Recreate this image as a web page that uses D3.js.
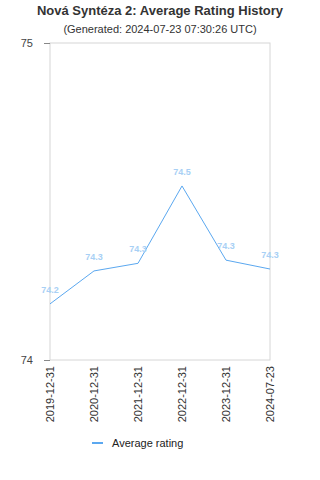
<!DOCTYPE html>
<html>
<head>
<meta charset="utf-8">
<script src="https://cdn.jsdelivr.net/npm/d3@7"></script>
<style>
  body { margin: 0; background: #fff; }
  text { font-family: "Liberation Sans", Arial, sans-serif; }
</style>
</head>
<body>
<div id="chart"></div>
<script>
var titleText = "Nová Syntéza 2: Average Rating History";
var subtitleText = "(Generated: 2024-07-23 07:30:26 UTC)";
var dates = ["2019-12-31", "2020-12-31", "2021-12-31", "2022-12-31", "2023-12-31", "2024-07-23"];
var ratings = [74.177, 74.281, 74.305, 74.549, 74.315, 74.287];
var yTicks = [74, 75];
var seriesName = "Average rating";

var width = 320, height = 480;
var plotLeft = 50, plotRight = 270, plotTop = 43, plotBottom = 360;
var lineColor = "#5ba8f0";

var svg = d3.select("#chart").append("svg")
  .attr("width", width)
  .attr("height", height);

// title
svg.append("text")
  .attr("x", 160).attr("y", 15)
  .attr("text-anchor", "middle")
  .style("font-size", "13px").style("font-weight", "bold")
  .style("fill", "#333")
  .text(titleText);

svg.append("text")
  .attr("x", 160).attr("y", 33)
  .attr("text-anchor", "middle")
  .style("font-size", "11px")
  .style("fill", "#333")
  .text(subtitleText);

var x = d3.scalePoint().domain(dates).range([plotLeft, plotRight]);
var y = d3.scaleLinear().domain([74, 75]).range([plotBottom, plotTop]);

// frame
svg.append("rect")
  .attr("x", plotLeft).attr("y", plotTop)
  .attr("width", plotRight - plotLeft).attr("height", plotBottom - plotTop)
  .attr("fill", "none")
  .attr("stroke", "#d6d6d6");

// y axis
var yAxis = svg.append("g")
  .attr("transform", "translate(" + plotLeft + ",0)")
  .call(d3.axisLeft(y).tickValues(yTicks).tickSize(6).tickPadding(11).tickFormat(d3.format("d")));
yAxis.select(".domain").remove();
yAxis.selectAll("line").attr("stroke", "#888");
yAxis.selectAll("text").style("font-size", "11px").style("fill", "#444")
  .style("font-family", "'Liberation Sans', Arial, sans-serif");

// x axis
var xAxis = svg.append("g")
  .attr("transform", "translate(0," + plotBottom + ")")
  .call(d3.axisBottom(x).tickSize(0));
xAxis.select(".domain").remove();
xAxis.selectAll("text")
  .attr("transform", "rotate(-90)")
  .attr("text-anchor", "end")
  .attr("x", -6).attr("y", 0).attr("dy", "0.35em")
  .style("font-size", "11px").style("fill", "#333")
  .style("font-family", "'Liberation Sans', Arial, sans-serif");

// line
var line = d3.line()
  .x(function(d, i) { return x(dates[i]); })
  .y(function(d) { return y(d); });

svg.append("path")
  .datum(ratings)
  .attr("d", line)
  .attr("fill", "none")
  .attr("stroke", lineColor)
  .attr("stroke-width", 1);

// value labels
svg.selectAll(".val")
  .data(ratings)
  .enter().append("text")
  .attr("class", "val")
  .attr("x", function(d, i) { return x(dates[i]); })
  .attr("y", function(d) { return y(d) - 11; })
  .attr("text-anchor", "middle")
  .style("font-size", "9px")
  .style("font-weight", "bold")
  .style("fill", "#a8d0f5")
  .text(function(d) { return d3.format(".1f")(d); });

// legend
svg.append("line")
  .attr("x1", 92).attr("x2", 103)
  .attr("y1", 443).attr("y2", 443)
  .attr("stroke", lineColor).attr("stroke-width", 2);

svg.append("text")
  .attr("x", 112).attr("y", 447)
  .style("font-size", "11px").style("fill", "#222")
  .text(seriesName);
</script>
</body>
</html>
